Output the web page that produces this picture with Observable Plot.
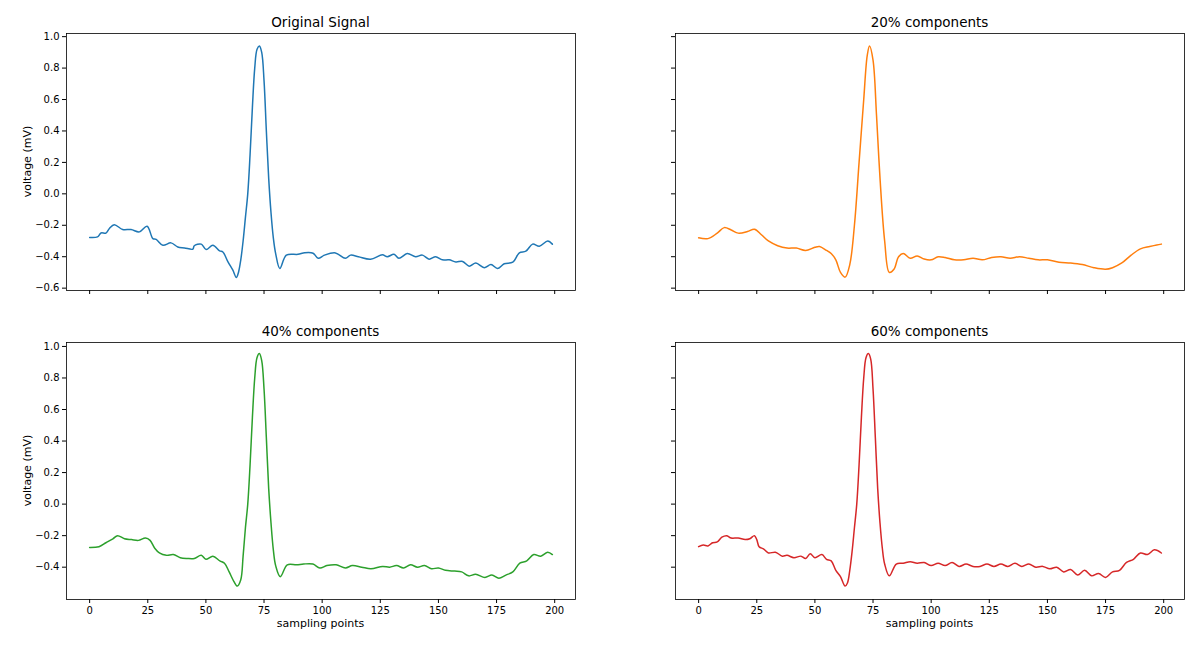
<!DOCTYPE html>
<html><head><meta charset="utf-8">
<script src="https://cdn.jsdelivr.net/npm/d3@7"></script>
<script src="https://cdn.jsdelivr.net/npm/@observablehq/plot@0.6"></script>
<style>
body{margin:0;background:#fff;width:1200px;height:647px;position:relative;font-family:"DejaVu Sans",sans-serif;}
.p{position:absolute}
.t{position:absolute;font-size:13.5px;text-align:center;width:509px}
.lab{position:absolute;font-size:11px}
</style></head><body>
<script>
const origX=[0,3.4,4.9,7,8.5,10.6,14.2,17.8,21.4,24.7,27.2,28.6,31.5,35,37.9,40.8,44.4,45,48,50.1,53,55.9,57.3,59.5,61.6,63.1,64,65,66,67,68,69,70,71,72,73,74,75,76,77,78,79,80,81.8,84.6,89.6,92.5,96.1,98.3,101,105.7,110,112.2,115.6,120.8,125.9,128,130.9,133,136.6,140.2,143.1,146,148.8,151.7,154.6,157.5,160.4,163.2,166.1,169.7,172.6,175.4,178.3,182,184.8,187.6,190.5,193.4,197,199];
const origY=[-0.278,-0.274,-0.249,-0.25,-0.22,-0.196,-0.227,-0.227,-0.242,-0.206,-0.285,-0.29,-0.327,-0.312,-0.338,-0.344,-0.352,-0.33,-0.32,-0.354,-0.327,-0.363,-0.37,-0.433,-0.486,-0.532,-0.5,-0.42,-0.3,-0.15,0.0,0.25,0.55,0.8,0.92,0.94,0.9,0.72,0.4,0.1,-0.12,-0.28,-0.38,-0.475,-0.39,-0.385,-0.375,-0.378,-0.41,-0.39,-0.376,-0.41,-0.39,-0.40,-0.416,-0.388,-0.40,-0.385,-0.41,-0.38,-0.40,-0.39,-0.416,-0.40,-0.42,-0.42,-0.433,-0.43,-0.46,-0.44,-0.47,-0.45,-0.475,-0.445,-0.435,-0.375,-0.365,-0.32,-0.333,-0.3,-0.32];
const p20X=[0,4,8,11,14,17,21,24,27,30,34,38,42,46,50,52,55,57,59,61,63,65,67,69,71,72.5,73.5,75,76.5,78,80,82,84,86,88,91,94,97,100,103,106,110,114,118,122,126,130,134,138,142,146,150,155,160,165,170,175,178,182,186,190,194,197,199];
const p20Y=[-0.28,-0.285,-0.25,-0.215,-0.23,-0.25,-0.24,-0.225,-0.26,-0.30,-0.33,-0.345,-0.345,-0.36,-0.34,-0.335,-0.36,-0.38,-0.42,-0.50,-0.53,-0.45,-0.2,0.2,0.6,0.88,0.94,0.85,0.5,0.1,-0.3,-0.5,-0.48,-0.4,-0.38,-0.41,-0.395,-0.415,-0.42,-0.40,-0.405,-0.42,-0.42,-0.41,-0.42,-0.405,-0.40,-0.41,-0.40,-0.41,-0.42,-0.42,-0.435,-0.44,-0.45,-0.47,-0.48,-0.47,-0.44,-0.39,-0.35,-0.335,-0.325,-0.32];
const p40X=[0,4,7,10,12,15,18,21,24,26,28,30,33,36,39,42,45,48,50,53,56,58,60,62,63.5,65,66,67,68,69,70,71,72,73,74,75,76,77,78,79,80,82,85,89,92,96,99,102,106,110,113,117,121,126,129,132,135,138,141,144,147,150,153,157,160,163,166,170,173,176,179,182,185,188,191,194,197,199];
const p40Y=[-0.275,-0.27,-0.245,-0.22,-0.2,-0.22,-0.225,-0.23,-0.215,-0.23,-0.28,-0.31,-0.325,-0.32,-0.34,-0.345,-0.345,-0.325,-0.35,-0.33,-0.36,-0.375,-0.43,-0.49,-0.52,-0.48,-0.33,-0.15,0.0,0.25,0.55,0.8,0.93,0.955,0.91,0.73,0.42,0.1,-0.12,-0.29,-0.39,-0.46,-0.385,-0.385,-0.38,-0.38,-0.405,-0.39,-0.385,-0.405,-0.39,-0.40,-0.41,-0.395,-0.40,-0.39,-0.405,-0.385,-0.40,-0.39,-0.41,-0.405,-0.42,-0.425,-0.43,-0.455,-0.445,-0.465,-0.45,-0.47,-0.45,-0.43,-0.375,-0.36,-0.32,-0.33,-0.305,-0.32];
const p60X=[0,2,4,6,8,10,12,14,17,20,22,24,25,26,28,30,33,36,38,41,44,46,48,50,53,55,57,59,61,63,64,65,66,67,68,69,70,71,72,73,74,75,76,77,78,79,80,82,85,88,91,94,97,100,103,106,109,112,115,118,121,124,127,130,133,136,139,142,145,148,151,154,157,160,163,166,169,172,175,178,181,184,187,190,193,196,199];
const p60Y=[-0.27,-0.26,-0.265,-0.245,-0.24,-0.21,-0.2,-0.215,-0.215,-0.225,-0.22,-0.2,-0.225,-0.27,-0.285,-0.31,-0.305,-0.33,-0.325,-0.34,-0.33,-0.345,-0.315,-0.34,-0.32,-0.35,-0.36,-0.42,-0.46,-0.52,-0.5,-0.42,-0.3,-0.15,0.0,0.25,0.55,0.8,0.93,0.955,0.92,0.73,0.42,0.1,-0.12,-0.28,-0.38,-0.455,-0.38,-0.375,-0.365,-0.375,-0.37,-0.39,-0.375,-0.39,-0.37,-0.395,-0.38,-0.395,-0.395,-0.38,-0.395,-0.38,-0.395,-0.375,-0.395,-0.38,-0.4,-0.395,-0.41,-0.4,-0.43,-0.415,-0.45,-0.42,-0.455,-0.44,-0.465,-0.43,-0.42,-0.37,-0.35,-0.31,-0.32,-0.29,-0.31];
const xTicks=[0,25,50,75,100,125,150,175,200];
const yTicks=[-0.6,-0.4,-0.2,0.0,0.2,0.4,0.6,0.8,1.0];
const titles=["Original Signal","20% components","40% components","60% components"];
const colors=["#1f77b4","#ff7f0e","#2ca02c","#d62728"];
const series=[[origX,origY],[p20X,p20Y],[p40X,p40Y],[p60X,p60Y]];
const frames=[[66,33],[675,33],[66,342],[675,342]];
const ML=60,MT=10,W=509,H=257;
const fmt=d=>d.toFixed(1).replace("-","\u2212");
series.forEach(([xs,ys],i)=>{
  const data=xs.map((x,j)=>({x,y:ys[j]}));
  const left=i%2===0, bottom=i>=2;
  const yt=bottom?yTicks.filter(t=>t>-0.5):yTicks;
  const svg=Plot.plot({
    width:ML+W+10,height:MT+H+30,marginLeft:ML,marginTop:MT,marginRight:10,marginBottom:30,
    style:{fontFamily:"DejaVu Sans",fontSize:"10px",color:"#000"},
    x:{domain:[-9.95,208.95]},y:{domain:bottom?[-0.605,1.025]:[-0.615,1.02]},
    marks:[
      Plot.axisX({ticks:xTicks,tickSize:4,tickPadding:3,label:null,tickFormat:bottom?(d=>String(d)):(()=>"")}),
      Plot.axisY({ticks:yt,tickSize:4,tickPadding:3,label:null,tickFormat:left?fmt:(()=>"")}),
      Plot.line(data,{x:"x",y:"y",stroke:colors[i],strokeWidth:1.5,curve:"catmull-rom"}),
      Plot.frame({stroke:"#000",strokeWidth:0.8})
    ]});
  svg.classList.add("p");
  svg.style.left=(frames[i][0]-ML)+"px";svg.style.top=(frames[i][1]-MT)+"px";
  document.body.appendChild(svg);
  const t=document.createElement("div");t.className="t";t.textContent=titles[i];
  t.style.left=frames[i][0]+"px";t.style.top=(frames[i][1]-19)+"px";document.body.appendChild(t);
  if(left){const l=document.createElement("div");l.className="lab";l.textContent="voltage (mV)";
    l.style.left="-18px";l.style.top=(frames[i][1]+H/2-7)+"px";l.style.width="90px";l.style.textAlign="center";l.style.transform="rotate(-90deg)";document.body.appendChild(l);}
  if(bottom){const l=document.createElement("div");l.className="lab";l.textContent="sampling points";
    l.style.left=frames[i][0]+"px";l.style.width=W+"px";l.style.textAlign="center";l.style.top="617px";document.body.appendChild(l);}
});
</script></body></html>
